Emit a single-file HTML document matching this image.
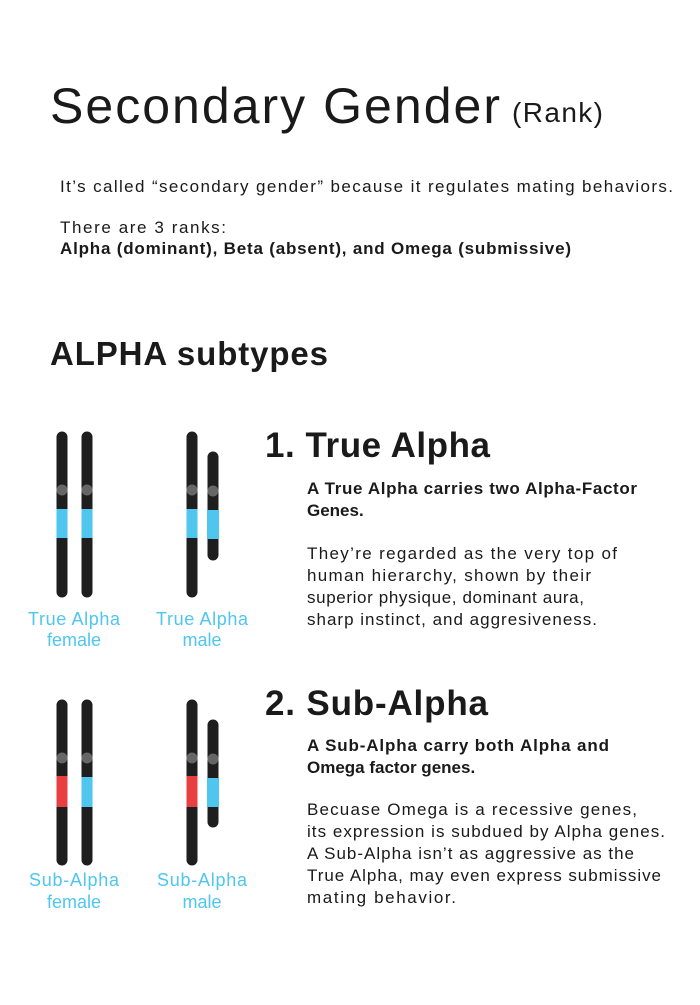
<!DOCTYPE html>
<html><head><meta charset="utf-8"><style>
body{margin:0;background:#fff;}
svg text{font-family:"Liberation Sans",sans-serif;fill:#1a1a1a;}
</style></head><body>
<svg width="700" height="1000" viewBox="0 0 700 1000" xmlns="http://www.w3.org/2000/svg">
<rect width="700" height="1000" fill="#fff"/>
<text x="50" y="123" font-size="50" textLength="450" lengthAdjust="spacing">Secondary Gender</text>
<text x="512" y="122" font-size="28" textLength="91" lengthAdjust="spacing">(Rank)</text>
<text x="60" y="192" font-size="17" textLength="613" lengthAdjust="spacing">It’s called “secondary gender” because it regulates mating behaviors.</text>
<text x="60" y="233" font-size="17" textLength="166" lengthAdjust="spacing">There are 3 ranks:</text>
<text x="60" y="254" font-size="17" font-weight="bold" textLength="511" lengthAdjust="spacing">Alpha (dominant), Beta (absent), and Omega (submissive)</text>
<text x="50" y="365" font-size="33" font-weight="bold" textLength="278" lengthAdjust="spacing">ALPHA subtypes</text>

<text x="265" y="457" font-size="35" font-weight="bold" textLength="225" lengthAdjust="spacing">1. True Alpha</text>
<text x="307" y="494" font-size="17" font-weight="bold" textLength="330" lengthAdjust="spacing">A True Alpha carries two Alpha-Factor</text>
<text x="307" y="516" font-size="17" font-weight="bold">Genes.</text>
<text x="307" y="559" font-size="17" textLength="310" lengthAdjust="spacing">They’re regarded as the very top of</text>
<text x="307" y="581" font-size="17" textLength="284" lengthAdjust="spacing">human hierarchy, shown by their</text>
<text x="307" y="603" font-size="17" textLength="277" lengthAdjust="spacing">superior physique, dominant aura,</text>
<text x="307" y="625" font-size="17" textLength="290" lengthAdjust="spacing">sharp instinct, and aggresiveness.</text>

<text x="265" y="715" font-size="35" font-weight="bold" textLength="223" lengthAdjust="spacing">2. Sub-Alpha</text>
<text x="307" y="751" font-size="17" font-weight="bold" textLength="302" lengthAdjust="spacing">A Sub-Alpha carry both Alpha and</text>
<text x="307" y="773" font-size="17" font-weight="bold">Omega factor genes.</text>
<text x="307" y="815" font-size="17" textLength="330" lengthAdjust="spacing">Becuase Omega is a recessive genes,</text>
<text x="307" y="837" font-size="17" textLength="358" lengthAdjust="spacing">its expression is subdued by Alpha genes.</text>
<text x="307" y="859" font-size="17" textLength="327" lengthAdjust="spacing">A Sub-Alpha isn’t as aggressive as the</text>
<text x="307" y="881" font-size="17" textLength="354" lengthAdjust="spacing">True Alpha, may even express submissive</text>
<text x="307" y="903" font-size="17" textLength="149" lengthAdjust="spacing">mating behavior.</text>

<g stroke="#1e1e1e" stroke-width="11" stroke-linecap="round" fill="none">
<line x1="62" y1="437" x2="62" y2="592"/><line x1="87" y1="437" x2="87" y2="592"/>
<line x1="192" y1="437" x2="192" y2="592"/><line x1="213" y1="457" x2="213" y2="555"/>
<line x1="62" y1="705" x2="62" y2="860"/><line x1="87" y1="705" x2="87" y2="860"/>
<line x1="192" y1="705" x2="192" y2="860"/><line x1="213" y1="725" x2="213" y2="822"/>
</g>
<g fill="#666">
<circle cx="62" cy="490" r="5.5"/><circle cx="87" cy="490" r="5.5"/><circle cx="192" cy="490" r="5.5"/><circle cx="213" cy="491" r="5.5"/>
<circle cx="62" cy="758" r="5.5"/><circle cx="87" cy="758" r="5.5"/><circle cx="192" cy="758" r="5.5"/><circle cx="213" cy="759" r="5.5"/>
</g>
<g fill="#4ec6ee">
<rect x="56.5" y="509" width="11" height="29"/><rect x="81.5" y="509" width="11" height="29"/>
<rect x="186.5" y="509" width="11" height="29"/><rect x="207" y="510" width="12" height="29"/>
<rect x="81.5" y="777" width="11" height="30"/><rect x="207" y="778" width="12" height="29"/>
</g>
<g fill="#e84040">
<rect x="56.5" y="776" width="11" height="31"/><rect x="186.5" y="776" width="11" height="31"/>
</g>
<g font-size="18" text-anchor="middle">
<text x="74" y="625" style="fill:#4ec6ee" textLength="92" lengthAdjust="spacing">True Alpha</text><text x="74" y="646" style="fill:#4ec6ee">female</text>
<text x="202" y="625" style="fill:#4ec6ee" textLength="92" lengthAdjust="spacing">True Alpha</text><text x="202" y="646" style="fill:#4ec6ee">male</text>
<text x="74" y="886" style="fill:#4ec6ee" textLength="90" lengthAdjust="spacing">Sub-Alpha</text><text x="74" y="908" style="fill:#4ec6ee">female</text>
<text x="202" y="886" style="fill:#4ec6ee" textLength="90" lengthAdjust="spacing">Sub-Alpha</text><text x="202" y="908" style="fill:#4ec6ee">male</text>
</g>
</svg>
</body></html>
